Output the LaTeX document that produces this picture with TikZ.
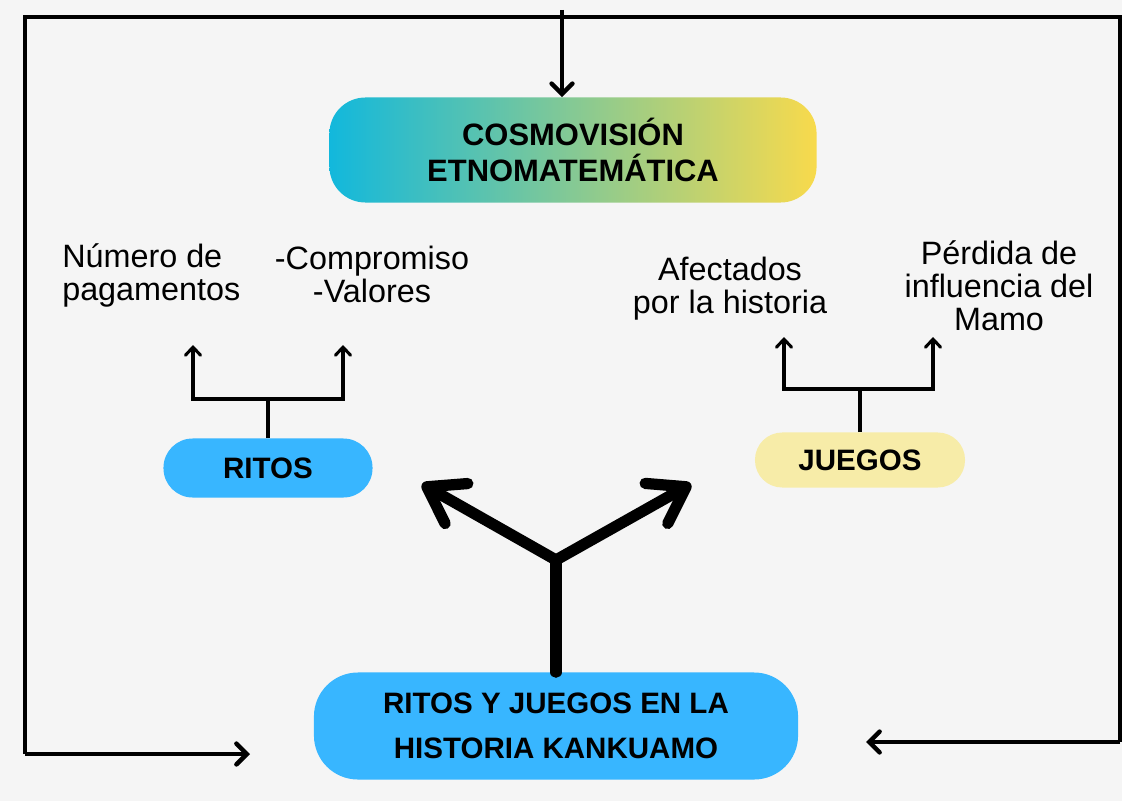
\documentclass[tikz,border=0pt]{standalone}
\usepackage{fontspec}
\setmainfont{Liberation Sans}
\usetikzlibrary{arrows.meta}
\definecolor{bgcol}{HTML}{F5F5F5}
\definecolor{skyblue}{HTML}{38B6FF}
\definecolor{paleyellow}{HTML}{F7ECA8}
\definecolor{cosmoleft}{HTML}{12B8DC}
\definecolor{cosmoright}{HTML}{F8DA4C}
\begin{document}
\begin{tikzpicture}[x=0.025cm, y=-0.025cm,
  frame/.style={line width=3.2pt, line join=miter},
  framearrow/.style={frame, -{Straight Barb[length=2.6mm, width=5.2mm, line cap=round]}},
  thinarrow/.style={line width=2.2pt, -{Straight Barb[length=2mm, width=3.8mm, line cap=round]}},
  forkarrow/.style={line width=8pt, line cap=round, line join=round, -{Straight Barb[length=8.5mm, width=11.5mm, line cap=round, line join=round]}},
  plaintext/.style={inner sep=0pt, font=\fontsize{23}{23.5}\selectfont},
  boldtext/.style={font=\fontsize{21}{24}\selectfont\bfseries}]
\useasboundingbox (0,0) rectangle (1122,801);
\fill[bgcol] (0,0) rectangle (1122,801);

% Main nodes
\node[rectangle, rounded corners=0.9cm, left color=cosmoleft, right color=cosmoright, minimum width=12.175cm, minimum height=2.625cm, align=center, font=\fontsize{22}{25.5}\selectfont\bfseries] (cosmo) at (573,150) {COSMOVISIÓN\\ETNOMATEMÁTICA};
\node[rectangle, rounded corners=1.1cm, fill=skyblue, minimum width=12.1cm, minimum height=2.675cm, align=center, font=\fontsize{21}{32}\selectfont\bfseries] (hist) at (556,726) {RITOS Y JUEGOS EN LA\\HISTORIA KANKUAMO};

\node[rectangle, rounded corners=0.73cm, fill=skyblue, minimum width=5.225cm, minimum height=1.475cm, boldtext] (ritos) at (268,468) {RITOS};
\node[rectangle, rounded corners=0.68cm, fill=paleyellow, minimum width=5.25cm, minimum height=1.375cm, boldtext] (juegos) at (860,460) {JUEGOS};

% Texts
\node[plaintext, anchor=west, align=left] (numero) at (62,275) {Número de\\pagamentos};
\node[plaintext, align=center] (valores) at (372,274) {-Compromiso\\-Valores};
\node[plaintext, align=center] (afectados) at (730,289) {Afectados\\por la historia};
\node[plaintext, align=center] (perdida) at (999,286) {Pérdida de\\influencia del\\Mamo};

% Frame
\coordinate (tl) at (25,17);
\coordinate (tr) at (1120,17);
\coordinate (bl) at (25,754);
\coordinate (br) at (1120,742);
\coordinate (lend) at (250,754);
\coordinate (rend) at (866,742);
\coordinate (topin) at (562,10);

\draw[frame] (bl) -- (tl) -- (tr) -- (br);
\draw[framearrow] (bl) -- (lend);
\draw[framearrow] (br) -- (rend);
\draw[framearrow] (topin) -- (topin |- cosmo.north);

% Fork
\coordinate (fork) at (556,560);
\coordinate (forkL) at (422,484);
\coordinate (forkR) at (691,484);
\draw[line width=8pt, line cap=round] (hist.north) -- (fork);
\draw[forkarrow] (fork) -- (forkL);
\draw[forkarrow] (fork) -- (forkR);

% Ritos branches
\coordinate (rbar) at (ritos.north |- 0,399);
\coordinate (rtipL) at (193,345);
\coordinate (rtipR) at (343,345);
\draw[line width=2.2pt] (ritos.north) -- (rbar);
\draw[thinarrow] (rbar) -| (rtipL);
\draw[thinarrow] (rbar) -| (rtipR);

% Juegos branches
\coordinate (jbar) at (juegos.north |- 0,389);
\coordinate (jtipL) at (784,337);
\coordinate (jtipR) at (933,337);
\draw[line width=2.2pt] (juegos.north) -- (jbar);
\draw[thinarrow] (jbar) -| (jtipL);
\draw[thinarrow] (jbar) -| (jtipR);
\end{tikzpicture}
\end{document}
